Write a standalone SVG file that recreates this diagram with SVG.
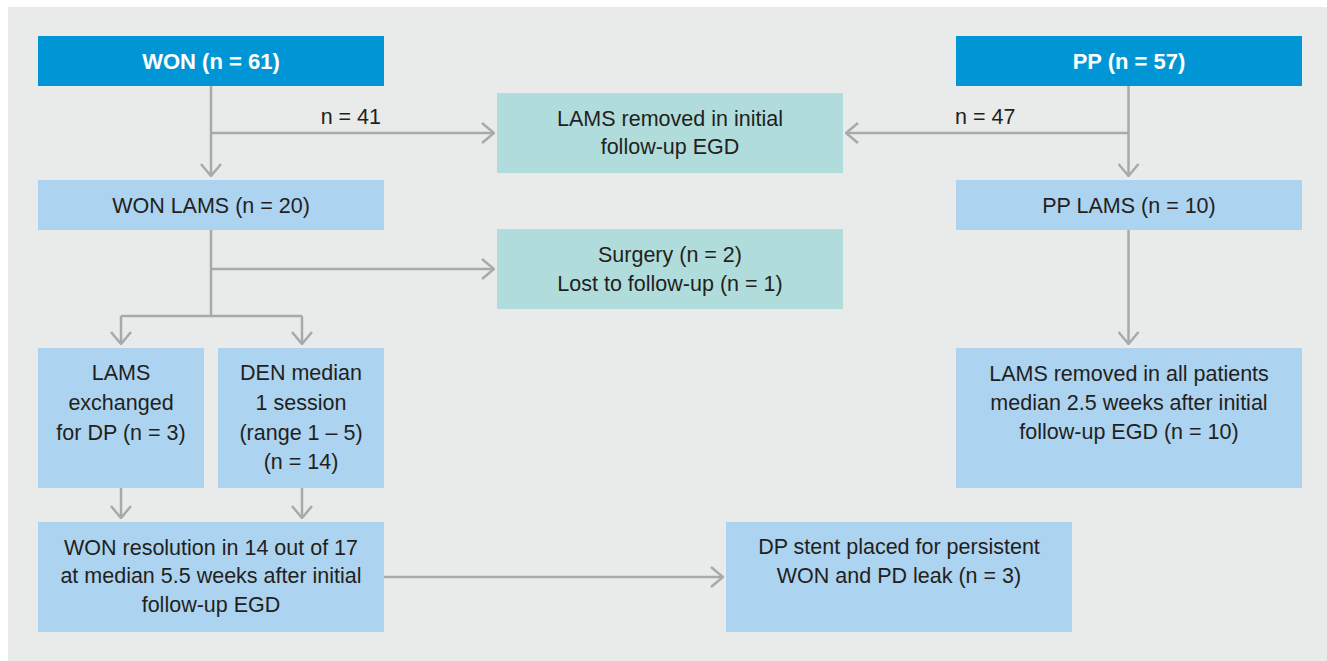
<svg xmlns="http://www.w3.org/2000/svg" width="1327" height="661" viewBox="0 0 1327 661">
<defs>
<style>
.t{font-family:"Liberation Sans",Arial,sans-serif;font-size:21.5px;fill:#231f20;text-anchor:middle}
.h{font-family:"Liberation Sans",Arial,sans-serif;font-size:22px;font-weight:bold;fill:#ffffff;text-anchor:middle}
.dark{fill:#0096d6}
.lb{fill:#acd3ef}
.teal{fill:#b0dcdc}
.c{stroke:#a8a9ab;stroke-width:2.5;fill:none}
</style>
<marker id="ah" viewBox="0 0 14 22" refX="13" refY="11" markerWidth="14" markerHeight="22" markerUnits="userSpaceOnUse" orient="auto">
<path d="M1,1 L13,11 L1,21" fill="none" stroke="#a8a9ab" stroke-width="2.5"/>
</marker>
</defs>
<rect x="0" y="0" width="1327" height="661" fill="#ffffff"/>
<rect x="8" y="7" width="1319" height="654" fill="#e9ebeb"/>
<g id="connectors">
<path class="c" d="M211,86 V176" marker-end="url(#ah)"/>
<path class="c" d="M211,133 H494" marker-end="url(#ah)"/>
<path class="c" d="M1128.5,86 V176" marker-end="url(#ah)"/>
<path class="c" d="M1128.5,133 H846" marker-end="url(#ah)"/>
<path class="c" d="M211,230 V316"/>
<path class="c" d="M211,269 H494" marker-end="url(#ah)"/>
<path class="c" d="M121,316 H302"/>
<path class="c" d="M121,316 V344" marker-end="url(#ah)"/>
<path class="c" d="M302,316 V344" marker-end="url(#ah)"/>
<path class="c" d="M121,488 V518" marker-end="url(#ah)"/>
<path class="c" d="M302,488 V518" marker-end="url(#ah)"/>
<path class="c" d="M1128.5,230 V344" marker-end="url(#ah)"/>
<path class="c" d="M384,577 H723" marker-end="url(#ah)"/>
<text class="t" x="381" y="124" style="text-anchor:end">n = 41</text>
<text class="t" x="955" y="124" style="text-anchor:start">n = 47</text>
</g>
<g id="won">
<rect class="dark" x="38" y="36" width="346" height="50"/>
<text class="h" x="211" y="69">WON (n = 61)</text>
</g>
<g id="pp">
<rect class="dark" x="956" y="36" width="346" height="50"/>
<text class="h" x="1129" y="69">PP (n = 57)</text>
</g>
<g id="lams-removed-initial">
<rect class="teal" x="497" y="93" width="346" height="80"/>
<text class="t" x="670" y="126">LAMS removed in initial</text>
<text class="t" x="670" y="154">follow-up EGD</text>
</g>
<g id="won-lams">
<rect class="lb" x="38" y="180" width="346" height="50"/>
<text class="t" x="211" y="213">WON LAMS (n = 20)</text>
</g>
<g id="pp-lams">
<rect class="lb" x="956" y="180" width="346" height="50"/>
<text class="t" x="1129" y="213">PP LAMS (n = 10)</text>
</g>
<g id="surgery">
<rect class="teal" x="497" y="229" width="346" height="80"/>
<text class="t" x="670" y="262">Surgery (n = 2)</text>
<text class="t" x="670" y="291">Lost to follow-up (n = 1)</text>
</g>
<g id="lams-exchanged">
<rect class="lb" x="38" y="348" width="166" height="140"/>
<text class="t" x="121" y="380">LAMS</text>
<text class="t" x="121" y="410">exchanged</text>
<text class="t" x="121" y="440">for DP (n = 3)</text>
</g>
<g id="den">
<rect class="lb" x="218" y="348" width="166" height="140"/>
<text class="t" x="301" y="380">DEN median</text>
<text class="t" x="301" y="410">1 session</text>
<text class="t" x="301" y="440">(range 1 – 5)</text>
<text class="t" x="301" y="469">(n = 14)</text>
</g>
<g id="lams-removed-all">
<rect class="lb" x="956" y="348" width="346" height="140"/>
<text class="t" x="1129" y="381">LAMS removed in all patients</text>
<text class="t" x="1129" y="410">median 2.5 weeks after initial</text>
<text class="t" x="1129" y="439">follow-up EGD (n = 10)</text>
</g>
<g id="won-resolution">
<rect class="lb" x="38" y="522" width="346" height="110"/>
<text class="t" x="211" y="555">WON resolution in 14 out of 17</text>
<text class="t" x="211" y="583">at median 5.5 weeks after initial</text>
<text class="t" x="211" y="612">follow-up EGD</text>
</g>
<g id="dp-stent">
<rect class="lb" x="726" y="522" width="346" height="110"/>
<text class="t" x="899" y="554">DP stent placed for persistent</text>
<text class="t" x="899" y="583">WON and PD leak (n = 3)</text>
</g>
</svg>
